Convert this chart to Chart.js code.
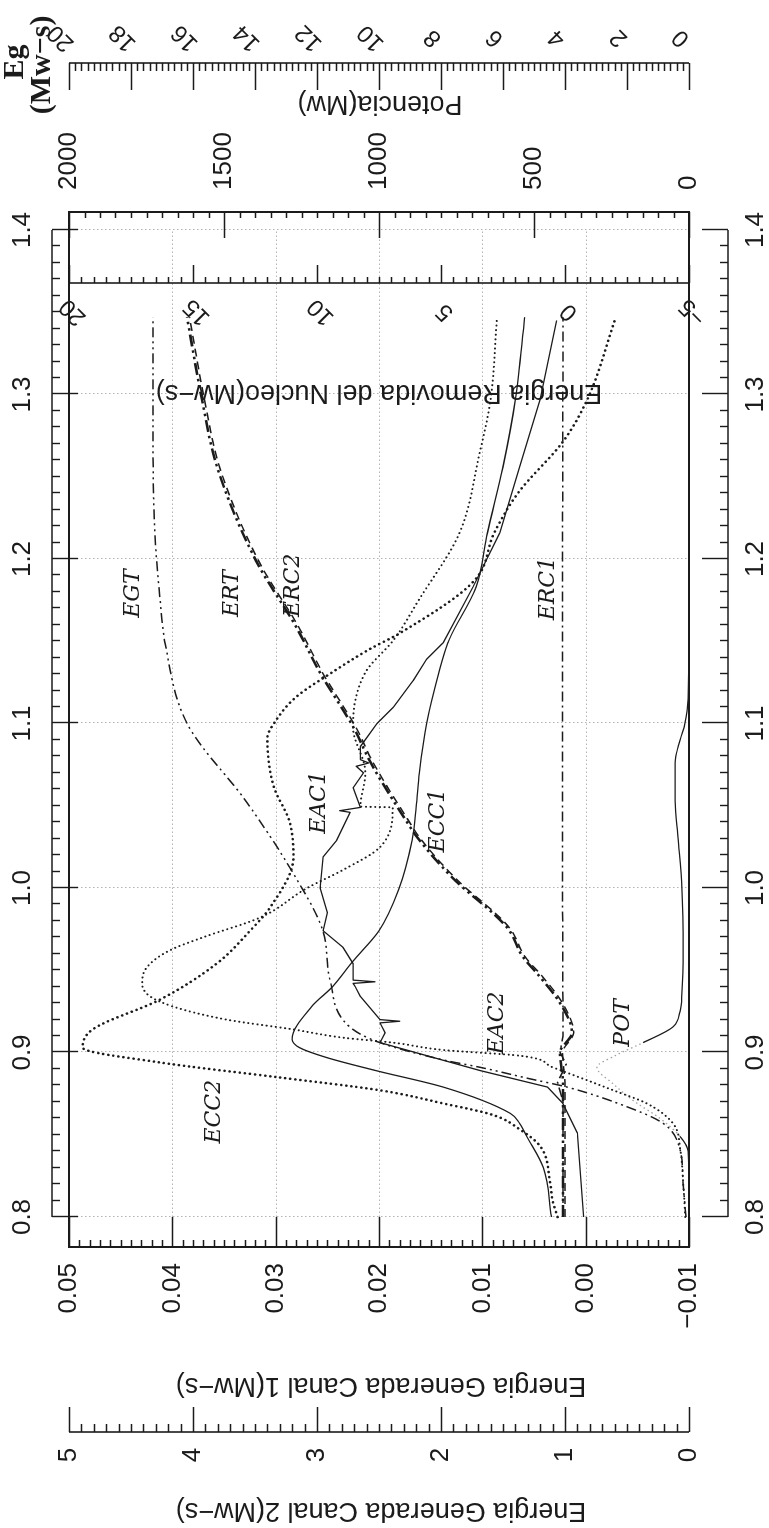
<!DOCTYPE html>
<html>
<head>
<meta charset="utf-8">
<title>Energia generada y removida</title>
<script src="https://cdn.jsdelivr.net/npm/chart.js@4.4.1/dist/chart.umd.min.js"></script>
<style>
  html, body { margin: 0; padding: 0; background: #fff; overflow: hidden; }
  /* the plot is laid out landscape and turned a quarter turn to fit the page */
  #wrap {
    position: absolute; left: 0; top: 0;
    width: 1528px; height: 769px;
    transform-origin: 0 0;
    transform: translate(0, 1528px) rotate(-90deg);
  }
</style>
</head>
<body>
<div id="wrap"><canvas id="energyChart" width="1528" height="769"></canvas></div>
<script>
// ---- axis ticks ----
var xTickValues = [0.8, 0.9, 1.0, 1.1, 1.2, 1.3, 1.4];
var xTickLabels = ['0.8', '0.9', '1.0', '1.1', '1.2', '1.3', '1.4'];
var canal1Ticks = [-0.01, 0.0, 0.01, 0.02, 0.03, 0.04, 0.05];
var canal1Labels = ['\u22120.01', '0.00', '0.01', '0.02', '0.03', '0.04', '0.05'];
var canal2Ticks = [0, 1, 2, 3, 4, 5];
var potTicks = [0, 500, 1000, 1500, 2000];
var erTicks = [-5, 0, 5, 10, 15, 20];
var erLabels = ['\u22125', '0', '5', '10', '15', '20'];
var egTicks = [0, 2, 4, 6, 8, 10, 12, 14, 16, 18, 20];

// ---- Energia generada canal 1 (Mw-s) ----
var ecc1X = [0.80, 0.83, 0.849, 0.857, 0.863, 0.879, 0.889, 0.897, 0.903, 0.908, 0.928, 0.940, 0.955, 0.974, 0.999,
  1.029, 1.049, 1.070, 1.100, 1.131, 1.151, 1.183, 1.216, 1.256, 1.297, 1.347];
var ecc1 = [0.0033, 0.0041, 0.0057, 0.0064, 0.0073, 0.0138, 0.0203, 0.0251, 0.0277, 0.0284, 0.0265, 0.0245, 0.0226, 0.0200, 0.0181,
  0.0168, 0.0164, 0.0161, 0.0154, 0.0142, 0.0132, 0.0106, 0.0095, 0.0080, 0.0068, 0.0059];

var eac1X = [0.80, 0.851, 0.869, 0.879, 0.889, 0.906, 0.912, 0.918, 0.919, 0.920, 0.934, 0.940, 0.942, 0.943, 0.944,
  0.954, 0.964, 0.974, 0.985, 1.000, 1.019, 1.029, 1.046, 1.047, 1.049, 1.061, 1.070, 1.074, 1.076, 1.078,
  1.086, 1.100, 1.110, 1.126, 1.139, 1.149, 1.183, 1.216, 1.256, 1.297, 1.345];
var eac1 = [0.0002, 0.0008, 0.0022, 0.0037, 0.0102, 0.0199, 0.0194, 0.0199, 0.0180, 0.0199, 0.0218, 0.0223, 0.0225, 0.0204, 0.0225,
  0.0225, 0.0235, 0.0254, 0.0250, 0.0257, 0.0254, 0.0241, 0.0228, 0.0238, 0.0218, 0.0225, 0.0215, 0.0222, 0.0210, 0.0218,
  0.0218, 0.0202, 0.0186, 0.0167, 0.0154, 0.0138, 0.0109, 0.0083, 0.0064, 0.0044, 0.0028];

// ---- Energia generada canal 2 (Mw-s) ----
var ecc2X = [0.80, 0.81, 0.821, 0.843, 0.853, 0.862, 0.869, 0.877, 0.885, 0.894, 0.903, 0.914, 0.932, 0.954, 0.974,
  0.988, 1.019, 1.040, 1.062, 1.091, 1.102, 1.116, 1.131, 1.145, 1.155, 1.187, 1.216, 1.240, 1.272, 1.297, 1.347];
var ecc2 = [1.06, 1.10, 1.12, 1.20, 1.36, 1.58, 1.98, 2.49, 3.32, 4.27, 4.89, 4.81, 4.27, 3.81, 3.54,
  3.38, 3.19, 3.22, 3.35, 3.40, 3.33, 3.17, 2.88, 2.58, 2.33, 1.73, 1.57, 1.38, 1.01, 0.82, 0.59];

var eac2X = [0.80, 0.824, 0.841, 0.857, 0.869, 0.877, 0.891, 0.898, 0.9015, 0.906, 0.909, 0.914, 0.920, 0.931, 0.942,
  0.952, 0.962, 0.970, 0.982, 1.000, 1.011, 1.025, 1.049, 1.0495, 1.070, 1.098, 1.131, 1.151, 1.175, 1.216,
  1.264, 1.297, 1.345];
var eac2 = [0.03, 0.05, 0.07, 0.13, 0.34, 0.61, 1.10, 1.36, 1.98, 2.39, 2.79, 3.19, 3.73, 4.27, 4.41,
  4.37, 4.19, 3.92, 3.46, 3.08, 2.79, 2.49, 2.39, 2.65, 2.61, 2.71, 2.61, 2.38, 2.18, 1.85,
  1.69, 1.60, 1.55];

// ---- Energia generada total, Eg (Mw-s) ----
var egtX = [0.80, 0.821, 0.841, 0.857, 0.867, 0.879, 0.884, 0.891, 0.895, 0.906, 0.9155, 0.944, 0.974, 1.009, 1.052,
  1.100, 1.149, 1.175, 1.216, 1.277, 1.347];
var egt = [0.10, 0.19, 0.29, 0.84, 2.00, 3.94, 5.13, 6.74, 7.81, 9.97, 10.94, 11.58, 11.81, 12.77, 14.26,
  16.19, 16.90, 17.06, 17.23, 17.29, 17.29];

// ---- Energia removida del nucleo (Mw-s) ----
var ertX = [0.80, 0.88, 0.90, 0.912, 0.93, 0.946, 0.958, 0.976, 1.006, 1.031, 1.040, 1.078, 1.096, 1.131, 1.159,
  1.199, 1.256, 1.297, 1.347];
var ert = [0.08, 0.08, 0.20, -0.28, 0.20, 1.01, 1.69, 2.34, 4.52, 5.97, 6.37, 7.90, 8.47, 9.88, 10.85,
  12.46, 14.03, 14.64, 15.24];

var erc2X = [0.80, 0.88, 0.90, 0.912, 0.93, 0.946, 0.958, 0.976, 1.006, 1.031, 1.040, 1.078, 1.096, 1.131, 1.159,
  1.199, 1.256, 1.297, 1.347];
var erc2 = [0.00, 0.00, 0.10, -0.35, 0.10, 0.90, 1.60, 2.25, 4.42, 5.88, 6.27, 7.80, 8.37, 9.78, 10.75,
  12.36, 13.93, 14.54, 15.14];

var erc1X = [0.80, 0.870, 0.882, 0.888, 0.893, 0.900, 0.910, 1.000, 1.200, 1.347];
var erc1 = [0.08, 0.08, 0.30, 0.10, -0.05, 0.20, 0.08, 0.10, 0.10, 0.08];

// ---- Potencia (Mw) ----
var potX = [0.80, 0.840, 0.849, 0.860, 0.870, 0.881, 0.891, 0.898, 0.906, 0.9155, 0.925, 0.936, 0.962, 1.000, 1.030,
  1.053, 1.076, 1.090, 1.100, 1.115, 1.200, 1.347];
var pot = [0, 3, 29, 94, 174, 245, 297, 239, 148, 52, 29, 23, 19, 23, 35,
  45, 45, 29, 13, 3, 0, 0];

// curve names written on the plot, anchored in (x, canal 1) units
var tagNames = ['EGT', 'ERT', 'ERC2', 'ERC1', 'EAC1', 'ECC1', 'EAC2', 'ECC2', 'POT'];
var tagX = [1.179, 1.179, 1.184, 1.182, 1.052, 1.041, 0.918, 0.864, 0.918];
var tagY = [0.0438, 0.0342, 0.0283, 0.0036, 0.0258, 0.0143, 0.0086, 0.0359, -0.0036];

var INK = '#1b1b1b';
var GRID = '#b3b3b3';
var TICK_FONT = '26px "Liberation Sans", Arial, sans-serif';
var TITLE_FONT = '27px "Liberation Sans", Arial, sans-serif';
var TAG_FONT = 'italic 22px "DejaVu Serif", serif';
var EG_FONT = 'bold 30px "Liberation Serif", serif';

// positions of the extra axis lines (canvas px, landscape)
var AXIS_C2 = 96;
var AXIS_ER = 1245;
var AXIS_EG = 1465;
var BRACKET_TOP = 52;
var BRACKET_BOTTOM = 728;

function pts(xs, ys) {
  return xs.map(function(x, i) { return { x: x, y: ys[i] }; });
}

function line(label, xs, ys, axis, opts) {
  var ds = {
    label: label,
    data: pts(xs, ys),
    yAxisID: axis,
    showLine: true,
    borderColor: INK,
    borderWidth: 1.4,
    pointRadius: 0,
    fill: false,
    borderJoinStyle: 'round',
    cubicInterpolationMode: 'monotone'
  };
  for (var k in opts) ds[k] = opts[k];
  return ds;
}

// short ticks along a vertical line, dir +1 = to the right
function vTicks(ctx, scale, at, lo, hi, step, every, minorLen, majorLen, dir) {
  var n = Math.round((hi - lo) / step);
  ctx.beginPath();
  for (var i = 0; i <= n; i++) {
    var py = Math.round(scale.getPixelForValue(lo + i * step)) + 0.5;
    var len = (i % every === 0) ? majorLen : minorLen;
    ctx.moveTo(at, py);
    ctx.lineTo(at + dir * len, py);
  }
  ctx.stroke();
}

// short ticks along a horizontal line, dir +1 = downwards
function hTicks(ctx, scale, at, lo, hi, step, every, minorLen, majorLen, dir) {
  var n = Math.round((hi - lo) / step);
  ctx.beginPath();
  for (var i = 0; i <= n; i++) {
    var px = Math.round(scale.getPixelForValue(lo + i * step)) + 0.5;
    var len = (i % every === 0) ? majorLen : minorLen;
    ctx.moveTo(px, at);
    ctx.lineTo(px, at + dir * len);
  }
  ctx.stroke();
}

function vLine(ctx, x, y0, y1) {
  ctx.beginPath(); ctx.moveTo(x, y0); ctx.lineTo(x, y1); ctx.stroke();
}
function hLine(ctx, y, x0, x1) {
  ctx.beginPath(); ctx.moveTo(x0, y); ctx.lineTo(x1, y); ctx.stroke();
}

function upText(ctx, text, x, y) {
  ctx.save();
  ctx.translate(x, y);
  ctx.rotate(-Math.PI / 2);
  ctx.fillText(text, 0, 0);
  ctx.restore();
}

function slantText(ctx, text, x, y) {
  ctx.save();
  ctx.translate(x, y);
  ctx.rotate(-Math.PI / 4);
  ctx.fillText(text, 0, 0);
  ctx.restore();
}

var axesPlugin = {
  id: 'axesPlugin',
  beforeDatasetsDraw: function(chart) {
    var ctx = chart.ctx, a = chart.chartArea;
    var xs = chart.scales.x, ys = chart.scales.y;
    var x0 = xs.getPixelForValue(0.8), x1 = xs.getPixelForValue(1.4);
    ctx.save();
    ctx.strokeStyle = GRID;
    ctx.lineWidth = 1;
    ctx.setLineDash([1.5, 2.5]);
    ctx.beginPath();
    xTickValues.forEach(function(v) {
      var px = Math.round(xs.getPixelForValue(v)) + 0.5;
      ctx.moveTo(px, a.top); ctx.lineTo(px, a.bottom);
    });
    canal1Ticks.forEach(function(v) {
      var py = Math.round(ys.getPixelForValue(v)) + 0.5;
      ctx.moveTo(x0, py); ctx.lineTo(x1, py);
    });
    ctx.stroke();
    ctx.restore();
  },
  afterDatasetsDraw: function(chart) {
    var ctx = chart.ctx, a = chart.chartArea, s = chart.scales;
    var xs = s.x;
    var x0 = xs.getPixelForValue(0.8), x1 = xs.getPixelForValue(1.4);
    ctx.save();
    ctx.strokeStyle = INK;
    ctx.fillStyle = INK;

    // frame
    ctx.lineWidth = 2;
    ctx.strokeRect(a.left, a.top, a.right - a.left, a.bottom - a.top);
    ctx.lineWidth = 1.6;
    vLine(ctx, AXIS_ER, a.top, a.bottom);
    vLine(ctx, AXIS_C2, a.top, a.bottom);
    vLine(ctx, AXIS_EG, a.top, a.bottom);
    hLine(ctx, BRACKET_TOP, x0, x1);
    hLine(ctx, BRACKET_BOTTOM, x0, x1);

    // tick marks
    ctx.lineWidth = 1.4;
    vTicks(ctx, s.y, a.left, -0.01, 0.05, 0.001, 10, 7, 30, 1);
    vTicks(ctx, s.c2, AXIS_C2, 0, 5, 0.1, 10, 8, 25, 1);
    vTicks(ctx, s.pot, a.right, 0, 2000, 50, 10, 6, 26, -1);
    vTicks(ctx, s.er, AXIS_ER, -5, 20, 0.5, 10, 6, 18, 1);
    vTicks(ctx, s.eg, AXIS_EG, 0, 20, 0.2, 10, 8, 27, -1);
    hTicks(ctx, xs, BRACKET_TOP, 0.8, 1.4, 0.01, 10, 8, 26, 1);
    hTicks(ctx, xs, BRACKET_BOTTOM, 0.8, 1.4, 0.01, 10, 8, 26, -1);

    // tick labels
    ctx.font = TICK_FONT;
    ctx.textBaseline = 'middle';
    ctx.textAlign = 'center';
    xTickValues.forEach(function(v, i) {
      var px = xs.getPixelForValue(v);
      ctx.fillText(xTickLabels[i], px, 23);
      ctx.fillText(xTickLabels[i], px, 756);
    });
    ctx.textAlign = 'right';
    canal1Ticks.forEach(function(v, i) {
      ctx.fillText(canal1Labels[i], 265, s.y.getPixelForValue(v));
    });
    ctx.textAlign = 'center';
    canal2Ticks.forEach(function(v) {
      ctx.fillText(String(v), 73, s.c2.getPixelForValue(v));
    });
    ctx.textAlign = 'left';
    potTicks.forEach(function(v) {
      ctx.fillText(String(v), 1338, s.pot.getPixelForValue(v));
    });
    ctx.textAlign = 'center';
    ctx.font = '24px "Liberation Sans", Arial, sans-serif';
    erTicks.forEach(function(v, i) {
      slantText(ctx, erLabels[i], 1216, s.er.getPixelForValue(v) + 4);
    });
    egTicks.forEach(function(v) {
      slantText(ctx, String(v), 1490, s.eg.getPixelForValue(v) - 8);
    });

    // axis titles
    ctx.font = TITLE_FONT;
    upText(ctx, 'Energia Generada Canal 2(Mw\u2212s)', 18, 381);
    upText(ctx, 'Energia Generada Canal 1(Mw\u2212s)', 143, 381);
    upText(ctx, 'Energia Removida del Nucleo(Mw\u2212s)', 1136, 379);
    upText(ctx, 'Potencia(Mw)', 1425, 380);
    ctx.font = EG_FONT;
    ctx.fillText('Eg', 1466, 15);
    ctx.fillText('(Mw\u2212s)', 1463, 42);

    // curve names
    ctx.font = TAG_FONT;
    tagNames.forEach(function(t, i) {
      ctx.fillText(t, xs.getPixelForValue(tagX[i]), s.y.getPixelForValue(tagY[i]));
    });
    ctx.restore();
  }
};

function inPulse(c) {
  return c.p0.parsed.x >= 0.848 && c.p1.parsed.x <= 0.907;
}

var datasets = [
  line('ECC1', ecc1X, ecc1, 'y', { borderWidth: 1.3 }),
  line('EAC1', eac1X, eac1, 'y', { borderWidth: 1.3, cubicInterpolationMode: 'default', tension: 0 }),
  line('ECC2', ecc2X, ecc2, 'c2', { borderWidth: 2.6, borderDash: [0.1, 5], borderCapStyle: 'round' }),
  line('EAC2', eac2X, eac2, 'c2', { borderWidth: 2, borderDash: [0.1, 4.5], borderCapStyle: 'round' }),
  line('EGT', egtX, egt, 'eg', { borderWidth: 1.5, borderDash: [10, 4, 2, 4, 2, 4] }),
  line('ERT', ertX, ert, 'er', { borderWidth: 2.6, borderDash: [12, 4, 2.5, 4, 2.5, 4] }),
  line('ERC2', erc2X, erc2, 'er', { borderWidth: 1.5, borderDash: [8, 5] }),
  line('ERC1', erc1X, erc1, 'er', { borderWidth: 1.5, borderDash: [10, 4, 2, 4], cubicInterpolationMode: 'default', tension: 0 }),
  line('POT', potX, pot, 'pot', {
    borderWidth: 1.3,
    segment: {
      borderColor: function(c) { return inPulse(c) ? '#a0a0a0' : undefined; },
      borderDash: function(c) { return inPulse(c) ? [1.5, 3] : undefined; }
    }
  })
];

var ctx = document.getElementById('energyChart').getContext('2d');
new Chart(ctx, {
  type: 'scatter',
  data: { datasets: datasets },
  options: {
    responsive: false,
    animation: false,
    devicePixelRatio: 1,
    layout: { padding: { left: 281, right: 212, top: 69, bottom: 80 } },
    plugins: { legend: { display: false }, tooltip: { enabled: false } },
    scales: {
      x: { type: 'linear', min: 0.78176, max: 1.41094, display: false },
      y: { type: 'linear', axis: 'y', min: -0.01, max: 0.05, display: false },
      c2: { type: 'linear', axis: 'y', min: 0, max: 5, display: false },
      er: { type: 'linear', axis: 'y', min: -5, max: 20, display: false },
      eg: { type: 'linear', axis: 'y', min: 0, max: 20, display: false },
      pot: { type: 'linear', axis: 'y', min: 0, max: 2000, display: false }
    }
  },
  plugins: [axesPlugin]
});
</script>
</body>
</html>
